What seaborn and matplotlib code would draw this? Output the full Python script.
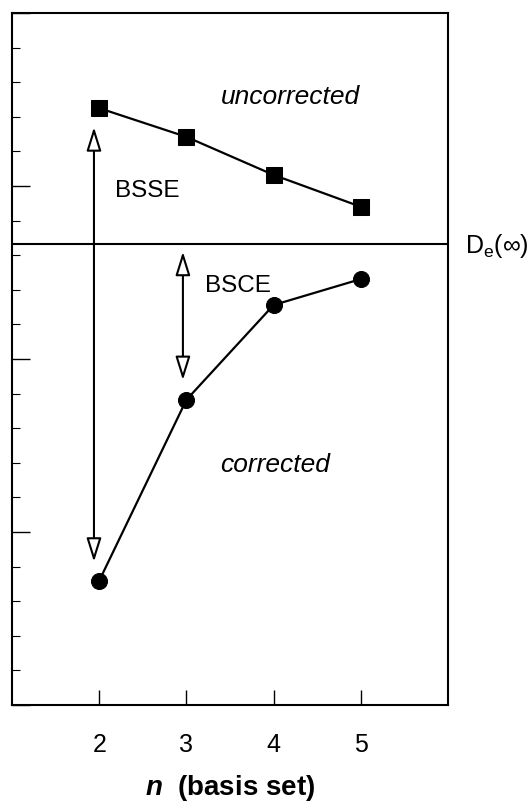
import matplotlib
matplotlib.use("Agg")
import matplotlib.pyplot as plt
import seaborn as sns
from matplotlib.ticker import MultipleLocator

# data
n = [2, 3, 4, 5]
uncorrected = [17.25, 16.42, 15.32, 14.40]
corrected = [3.59, 8.82, 11.56, 12.31]
de_inf = 13.32

sns.set_style("ticks")
plt.rcParams["font.family"] = ["Liberation Sans", "DejaVu Sans"]
plt.rcParams["mathtext.fontset"] = "custom"
plt.rcParams["mathtext.rm"] = "Liberation Sans"
plt.rcParams["mathtext.it"] = "Liberation Sans:italic"
plt.rcParams["mathtext.bf"] = "Liberation Sans:bold"
plt.rcParams["mathtext.bfit"] = "Liberation Sans:bold:italic"
for key in ["text.color", "axes.labelcolor", "xtick.color", "ytick.color",
            "axes.edgecolor"]:
    plt.rcParams[key] = "black"

fig, ax = plt.subplots(figsize=(5.29, 8.08), dpi=100)
fig.subplots_adjust(left=12 / 529, right=448 / 529,
                    bottom=1 - 705 / 808, top=1 - 13 / 808)

# ----------------------------
# Curves
# ----------------------------
sns.lineplot(x=n, y=uncorrected, ax=ax, color="black", linewidth=1.6,
             marker="s", markersize=11, markeredgecolor="black")
sns.lineplot(x=n, y=corrected, ax=ax, color="black", linewidth=1.6,
             marker="o", markersize=11.5, markeredgecolor="black")
ax.axhline(de_inf, color="black", linewidth=1.5)

# ----------------------------
# Arrows
# ----------------------------
arrow = dict(arrowstyle="<|-|>,head_length=0.8,head_width=0.25",
             mutation_scale=18, fc="white", ec="black", lw=1.5,
             shrinkA=0, shrinkB=0)
ax.annotate("", xy=(n[0] - 0.06, corrected[0] + 0.55),
            xytext=(n[0] - 0.06, uncorrected[0] - 0.55), arrowprops=arrow)
ax.annotate("", xy=(n[1] - 0.04, corrected[1] + 0.57),
            xytext=(n[1] - 0.04, de_inf - 0.22), arrowprops=arrow)

# ----------------------------
# Labels
# ----------------------------
ax.text(3.39, 17.36, "uncorrected", fontsize=19, style="italic")
ax.text(3.39, 6.74, "corrected", fontsize=19, style="italic")
ax.text(2.18, 14.69, "BSSE", fontsize=17.5)
ax.text(3.21, 11.94, "BSCE", fontsize=17.5)
ax.text(6.19, 13.05, r"D$_\mathregular{e}$(∞)", fontsize=18, clip_on=False)

# ----------------------------
# Axes
# ----------------------------
ax.set_xlim(1, 6)
ax.set_ylim(0, 20)
ax.set_xticks(n)
ax.yaxis.set_major_locator(MultipleLocator(5))
ax.yaxis.set_minor_locator(MultipleLocator(1))
ax.tick_params(axis="x", direction="in", length=11, width=1, pad=20,
               labelsize=18)
ax.tick_params(axis="y", which="major", direction="in", length=13, width=1,
               labelleft=False)
ax.tick_params(axis="y", which="minor", direction="in", length=5.5, width=0.8)
for s in ax.spines.values():
    s.set_linewidth(1.5)
ax.set_xlabel(r"$\mathbfit{n}$  (basis set)", fontsize=20, fontweight="bold",
              labelpad=12)
ax.set_ylabel("")

fig.savefig("out.png", dpi=100)
plt.close(fig)
